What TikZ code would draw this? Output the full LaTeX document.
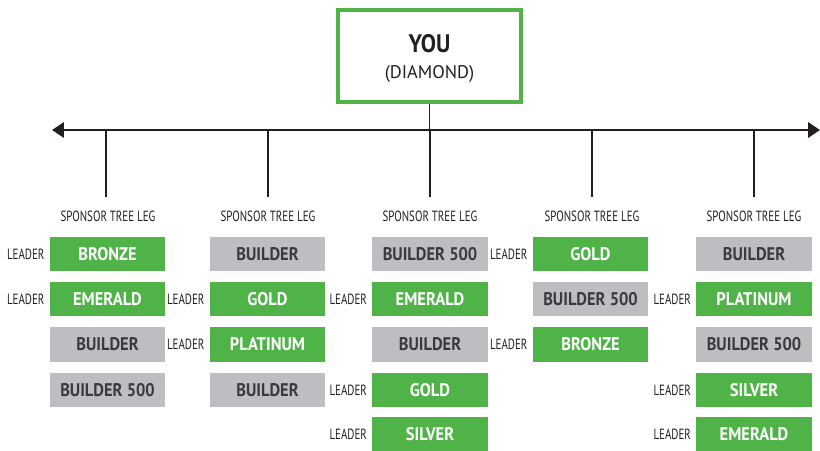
\documentclass[tikz,border=0pt]{standalone}
\usepackage{fontspec}
\setmainfont{PT Sans}
\newfontfamily\narrowfont[FakeStretch=0.74]{PT Sans}
\newfontfamily\rankfont[FakeStretch=0.9]{PT Sans}
\usepackage{tikz}
\usetikzlibrary{arrows.meta,positioning}

\definecolor{lvlgreen}{HTML}{50B348}
\definecolor{bldgray}{HTML}{BDBEC2}
\definecolor{inkdark}{HTML}{231F20}
\definecolor{txtgray}{HTML}{3A3A3C}

\begin{document}
\begin{tikzpicture}[x=0.025cm,y=-0.025cm]
			\tikzstyle{Rank}	= [minimum width=2.875cm, minimum height=0.85cm, inner sep=0pt, font=\rankfont\fontsize{13}{15}\selectfont\bfseries]
			\tikzstyle{Green}	= [Rank, fill=lvlgreen, text=white]
			\tikzstyle{Gray}	= [Rank, fill=bldgray, text=txtgray]
			\tikzstyle{Leader}	= [inner sep=0pt, text=inkdark, font=\narrowfont\fontsize{10.5}{12}\selectfont]
			\tikzstyle{Leg}		= [inner sep=0pt, text=inkdark, font=\narrowfont\fontsize{10.5}{12}\selectfont]
			\tikzstyle{Line}	= [draw=inkdark, line width=1pt]

			\useasboundingbox (0,0) rectangle (820,451);

			\node (you) at (429.5,56) [draw=lvlgreen, line width=3pt, fill=white, minimum width=4.58cm, minimum height=2.3cm] {};
			\node (youtxt) at (429.5,58.5) [align=center, text=inkdark, inner sep=0pt] {{\rankfont\fontsize{18}{20}\selectfont\bfseries YOU}\\[6pt]{\fontsize{13}{15}\selectfont (DIAMOND)}};

			\coordinate (bl) at (52,130);
			\coordinate (br) at (820,130);
			\coordinate (hub) at (429.5,130);
			\draw [Line, line width=1.3pt, {Triangle[length=8.5pt,width=11pt]}-{Triangle[length=8.5pt,width=11pt]}] (bl) -- (br);
			\draw [Line] (you.south) -- (hub);

			% legs
			\coordinate (t1) at (106,130);
			\coordinate (t2) at (268,130);
			\coordinate (t3) at (430,130);
			\coordinate (t4) at (592,130);
			\coordinate (t5) at (754,130);
			\node (g1) at (108,216) [Leg] {SPONSOR TREE LEG};
			\node (g2) at (268,216) [Leg] {SPONSOR TREE LEG};
			\node (g3) at (430,216) [Leg] {SPONSOR TREE LEG};
			\node (g4) at (592,216) [Leg] {SPONSOR TREE LEG};
			\node (g5) at (754,216) [Leg] {SPONSOR TREE LEG};
			\draw [Line] (t1) -- ++(0,67);
			\draw [Line] (t2) -- ++(0,67);
			\draw [Line] (t3) -- ++(0,67);
			\draw [Line] (t4) -- ++(0,67);
			\draw [Line] (t5) -- ++(0,67);

			% leg 1
			\node (c1r1) at (107.5,254) [Green] {BRONZE};
			\node (c1r2) at (107.5,299) [Green] {EMERALD};
			\node (c1r3) at (107.5,344.5) [Gray] {BUILDER};
			\node (c1r4) at (107.5,390) [Gray] {BUILDER 500};
			\node (l1r1) [Leader, left=0.125cm of c1r1] {LEADER};
			\node (l1r2) [Leader, left=0.125cm of c1r2] {LEADER};

			% leg 2
			\node (c2r1) at (267.5,254) [Gray] {BUILDER};
			\node (c2r2) at (267.5,299) [Green] {GOLD};
			\node (c2r3) at (267.5,344.5) [Green] {PLATINUM};
			\node (c2r4) at (267.5,390) [Gray] {BUILDER};
			\node (l2r2) [Leader, left=0.125cm of c2r2] {LEADER};
			\node (l2r3) [Leader, left=0.125cm of c2r3] {LEADER};

			% leg 3
			\node (c3r1) at (430,254) [Gray] {BUILDER 500};
			\node (c3r2) at (430,299) [Green] {EMERALD};
			\node (c3r3) at (430,344.5) [Gray] {BUILDER};
			\node (c3r4) at (430,390) [Green] {GOLD};
			\node (c3r5) at (430,434.5) [Green] {SILVER};
			\node (l3r2) [Leader, left=0.125cm of c3r2] {LEADER};
			\node (l3r4) [Leader, left=0.125cm of c3r4] {LEADER};
			\node (l3r5) [Leader, left=0.125cm of c3r5] {LEADER};

			% leg 4
			\node (c4r1) at (590.5,254) [Green] {GOLD};
			\node (c4r2) at (590.5,299) [Gray] {BUILDER 500};
			\node (c4r3) at (590.5,344.5) [Green] {BRONZE};
			\node (l4r1) [Leader, left=0.125cm of c4r1] {LEADER};
			\node (l4r3) [Leader, left=0.125cm of c4r3] {LEADER};

			% leg 5
			\node (c5r1) at (754,254) [Gray] {BUILDER};
			\node (c5r2) at (754,299) [Green] {PLATINUM};
			\node (c5r3) at (754,344.5) [Gray] {BUILDER 500};
			\node (c5r4) at (754,390) [Green] {SILVER};
			\node (c5r5) at (754,434.5) [Green] {EMERALD};
			\node (l5r2) [Leader, left=0.125cm of c5r2] {LEADER};
			\node (l5r4) [Leader, left=0.125cm of c5r4] {LEADER};
			\node (l5r5) [Leader, left=0.125cm of c5r5] {LEADER};
\end{tikzpicture}
\end{document}
